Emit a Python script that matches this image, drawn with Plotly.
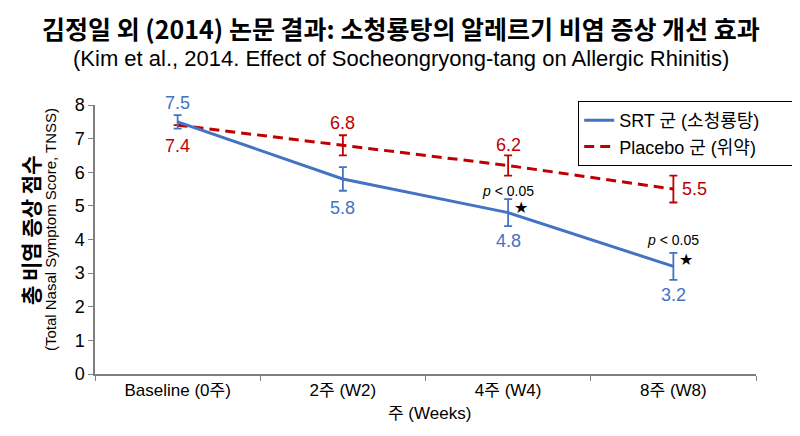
"""Kim et al. (2014): TNSS over 8 weeks, SRT vs placebo, with SE bars."""

import plotly.graph_objects as go

WEEKS = ["Baseline (0주)", "2주 (W2)", "4주 (W4)", "8주 (W8)"]

SRT_NAME = "SRT 군 (소청룡탕)"
SRT_TNSS = [7.5, 5.8, 4.8, 3.2]
SRT_ERR = [0.2, 0.35, 0.4, 0.4]

PLACEBO_NAME = "Placebo 군 (위약)"
PLACEBO_TNSS = [7.4, 6.8, 6.2, 5.5]
PLACEBO_ERR = [None, 0.3, 0.3, 0.4]

SIG_WEEKS = ["4주 (W4)", "8주 (W8)"]
SIG_TEXT = "<i>p</i> < 0.05"

BLUE = "#4472C4"
RED = "#C00000"
FONT = "Liberation Sans, Arial, Noto Sans CJK KR, sans-serif"
KFONT = "Noto Sans CJK KR, Liberation Sans, sans-serif"
PAD = "\u00a0" * 6  # right padding inside the legend box

# label offsets (px) per point: (xshift, yshift, xanchor)
SRT_LABEL_POS = [(0, 19, "center"), (0, -29, "center"), (0, -28, "center"), (0, -29, "center")]
PLA_LABEL_POS = [(0, -21, "center"), (0, 22, "center"), (0, 21, "center"), (7, 0, "left")]

fig = go.Figure()

fig.add_trace(go.Scatter(
    x=WEEKS, y=PLACEBO_TNSS, name=PLACEBO_NAME, mode="lines",
    line=dict(color=RED, width=3, dash="10px,6px"),
    error_y=dict(type="data", array=PLACEBO_ERR, color=RED, thickness=1.8, width=4),
))
fig.add_trace(go.Scatter(
    x=WEEKS, y=SRT_TNSS, name=SRT_NAME + PAD, mode="lines",
    line=dict(color=BLUE, width=3),
    error_y=dict(type="data", array=SRT_ERR, color=BLUE, thickness=1.8, width=4),
))

for vals, pos, color in [(SRT_TNSS, SRT_LABEL_POS, BLUE), (PLACEBO_TNSS, PLA_LABEL_POS, RED)]:
    for wk, v, (dx, dy, anc) in zip(WEEKS, vals, pos):
        fig.add_annotation(x=wk, y=v, text=f"{v:.1f}", showarrow=False,
                           xshift=dx, yshift=dy, xanchor=anc,
                           font=dict(family=FONT, size=18, color=color))

for wk in SIG_WEEKS:
    v = SRT_TNSS[WEEKS.index(wk)]
    fig.add_annotation(x=wk, y=v, text=SIG_TEXT, showarrow=False, yshift=22 if wk == "4주 (W4)" else 26,
                       font=dict(family=FONT, size=14, color="black"))
    fig.add_annotation(x=wk, y=v, text="★", showarrow=False, xshift=13, yshift=5 if wk == "4주 (W4)" else 7,
                       font=dict(family="DejaVu Sans", size=16, color="black"))

# titles
fig.add_annotation(x=0.5, y=1, xref="paper", yref="paper", xanchor="center", yanchor="middle",
                   text="<b>김정일 외 (2014) 논문 결과: 소청룡탕의 알레르기 비염 증상 개선 효과</b>",
                   showarrow=False, font=dict(family=KFONT, size=25, color="black", weight=900),
                   xshift=-25, yshift=77)
fig.add_annotation(x=0.5, y=1, xref="paper", yref="paper", xanchor="center", yanchor="middle",
                   text="(Kim et al., 2014. Effect of Socheongryong-tang on Allergic Rhinitis)",
                   showarrow=False, font=dict(family=FONT, size=22, color="black"),
                   xshift=-25, yshift=47)

# axis titles
fig.add_annotation(x=0, y=0.535, xref="paper", yref="paper", textangle=-90,
                   xanchor="center", yanchor="middle",
                   text="<b>총 비염 증상 점수</b>", showarrow=False, xshift=-65,
                   font=dict(family=KFONT, size=21, color="black"))
fig.add_annotation(x=0, y=0.535, xref="paper", yref="paper", textangle=-90,
                   xanchor="center", yanchor="middle",
                   text="(Total Nasal Symptom Score, TNSS)", showarrow=False, xshift=-45,
                   font=dict(family=FONT, size=15, color="black"))
fig.add_annotation(x=0.5, y=0, xref="paper", yref="paper", yanchor="middle",
                   text="주 (Weeks)", showarrow=False, xshift=4, yshift=-39,
                   font=dict(family=FONT, size=17, color="black"))

fig.update_xaxes(
    type="category", range=[-0.5, 3.5], showgrid=False, automargin=False,
    showline=True, linecolor="#7f7f7f", linewidth=1.5,
    ticks="outside", ticklen=5, tickcolor="#7f7f7f", tickson="boundaries",
    tickfont=dict(family=FONT, size=17, color="black"),
)
fig.update_yaxes(
    range=[0, 8], dtick=1, showgrid=False, zeroline=False, automargin=False,
    showline=True, linecolor="#7f7f7f", linewidth=1.5,
    ticks="outside", ticklen=5, tickcolor="#7f7f7f",
    tickfont=dict(family=FONT, size=18, color="black"),
)

fig.update_layout(
    width=800, height=436,
    paper_bgcolor="white", plot_bgcolor="white",
    margin=dict(l=87, r=46, t=97, b=70),
    showlegend=True,
    legend=dict(x=0.731, y=1.015, xanchor="left", yanchor="top",
                traceorder="reversed",
                bgcolor="white", bordercolor="black", borderwidth=1,
                font=dict(family=FONT, size=18, color="black")),
)

fig.write_html("out.html")
